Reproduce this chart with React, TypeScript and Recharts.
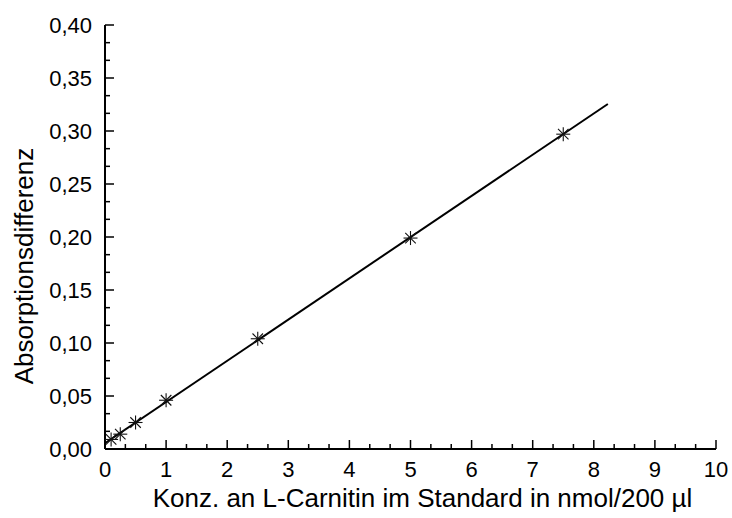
import { ScatterChart, Scatter, XAxis, YAxis } from 'recharts';

// Standard series: L-carnitine concentration (nmol/200 µl) vs. absorbance difference
const concentrations = [0.1, 0.25, 0.5, 1, 2.5, 5, 7.5];
const absorbanceDiff = [0.009, 0.014, 0.025, 0.046, 0.104, 0.199, 0.297];

// Regression line end points
const fitX = [0, 8.23];
const fitY = [0.0054, 0.3255];

const xMajorTicks = [0, 1, 2, 3, 4, 5, 6, 7, 8, 9, 10];
const yMajorTicks = [0, 0.05, 0.1, 0.15, 0.2, 0.25, 0.3, 0.35, 0.4];
const minorPerInterval = 2;

const xTitle = 'Konz. an L-Carnitin im Standard in nmol/200 µl';
const yTitle = 'Absorptionsdifferenz';

const FONT = '"Liberation Sans", Arial, Helvetica, sans-serif';

const points = concentrations.map((x, i) => ({ x, y: absorbanceDiff[i] }));
const fitLine = fitX.map((x, i) => ({ x, y: fitY[i] }));

// major ticks plus evenly spaced minor ticks between them
const withMinor = (majors: number[]) => {
  const out: number[] = [];
  majors.forEach((v, i) => {
    out.push(v);
    const next = majors[i + 1];
    if (next === undefined) return;
    for (let k = 1; k <= minorPerInterval; k++) {
      out.push(v + ((next - v) * k) / (minorPerInterval + 1));
    }
  });
  return out;
};

const isMajor = (v: number, majors: number[]) => majors.some((m) => Math.abs(m - v) < 1e-9);

const XTick = (props: any) => {
  const { x, y, payload } = props;
  const major = isMajor(payload.value, xMajorTicks);
  return (
    <g>
      <line x1={x} y1={y} x2={x} y2={y - (major ? 9 : 5)} stroke="#000" strokeWidth={1.5} />
      {major && (
        <text x={x} y={y + 28} textAnchor="middle" fontSize={22} fontFamily={FONT} fill="#000">
          {payload.value}
        </text>
      )}
    </g>
  );
};

const YTick = (props: any) => {
  const { x, y, payload } = props;
  const major = isMajor(payload.value, yMajorTicks);
  return (
    <g>
      <line x1={x} y1={y} x2={x + (major ? 9 : 5)} y2={y} stroke="#000" strokeWidth={1.5} />
      {major && (
        <text x={x - 13} y={y + 8} textAnchor="end" fontSize={22} fontFamily={FONT} fill="#000">
          {payload.value.toFixed(2).replace('.', ',')}
        </text>
      )}
    </g>
  );
};

const Asterisk = (props: any) => {
  const { cx, cy } = props;
  const r = 7;
  const d = r * 0.75;
  return (
    <g stroke="#111" strokeWidth={1.1}>
      <line x1={cx - r} y1={cy} x2={cx + r} y2={cy} />
      <line x1={cx} y1={cy - r} x2={cx} y2={cy + r} />
      <line x1={cx - d} y1={cy - d} x2={cx + d} y2={cy + d} />
      <line x1={cx - d} y1={cy + d} x2={cx + d} y2={cy - d} />
    </g>
  );
};

const App = () => {
  return (
    <div style={{ position: 'absolute', left: 0, top: 0, background: '#fff' }}>
      <ScatterChart width={732} height={518} margin={{ top: 25, right: 16, bottom: 0, left: 0 }}>
        <XAxis
          type="number"
          dataKey="x"
          domain={[0, 10]}
          ticks={withMinor(xMajorTicks)}
          interval={0}
          tick={<XTick />}
          tickLine={false}
          tickSize={0}
          tickMargin={0}
          height={69}
          axisLine={{ stroke: '#000', strokeWidth: 2 }}
          allowDataOverflow
          label={{
            content: (p: any) => {
              const vb = p.viewBox;
              return (
                <text
                  x={vb.x + vb.width / 2 + 12}
                  y={vb.y + 58}
                  textAnchor="middle"
                  fontSize={26}
                  fontFamily={FONT}
                  fill="#000"
                >
                  {xTitle}
                </text>
              );
            },
          }}
        />
        <YAxis
          type="number"
          dataKey="y"
          domain={[0, 0.4]}
          ticks={withMinor(yMajorTicks)}
          interval={0}
          tick={<YTick />}
          tickLine={false}
          tickSize={0}
          tickMargin={0}
          width={105}
          axisLine={{ stroke: '#000', strokeWidth: 2 }}
          allowDataOverflow
          label={{
            content: (p: any) => {
              const vb = p.viewBox;
              const cx = 33;
              const cy = vb.y + vb.height / 2 + 29;
              return (
                <text
                  transform={`translate(${cx},${cy}) rotate(-90)`}
                  textAnchor="middle"
                  fontSize={26}
                  fontFamily={FONT}
                  fill="#000"
                >
                  {yTitle}
                </text>
              );
            },
          }}
        />
        <Scatter
          data={fitLine}
          line={{ stroke: '#000', strokeWidth: 2 }}
          shape={() => <g />}
          isAnimationActive={false}
        />
        <Scatter data={points} shape={<Asterisk />} isAnimationActive={false} />
      </ScatterChart>
    </div>
  );
};

export default App;
